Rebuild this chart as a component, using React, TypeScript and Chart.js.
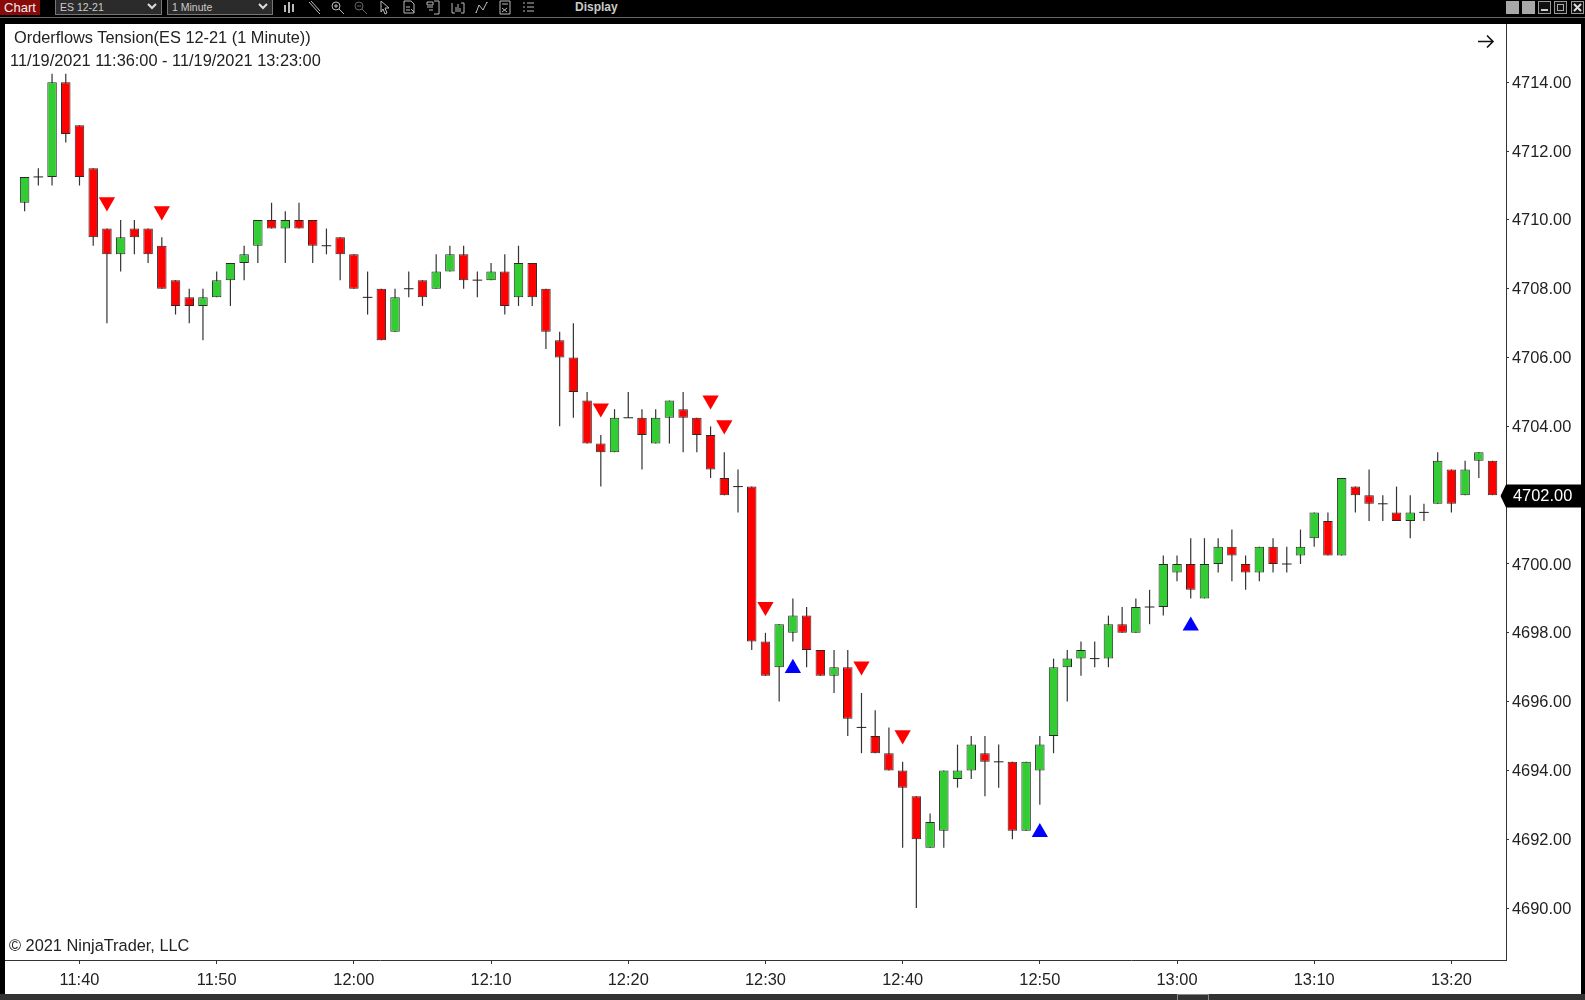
import React, { useEffect, useRef } from "react";
import { Chart, ScatterController, registerables } from "chart.js";

Chart.register(...registerables);
// The markers sit well inside the plot, so they must not widen the layout's minimum padding.
(ScatterController.prototype as any).getMaxOverflow = () => 0;

const opens = [
  4710.5, 4711.25, 4711.25, 4714, 4712.75, 4711.5, 4709.75, 4709, 4709.75, 4709.75,
  4709.25, 4708.25, 4707.75, 4707.5, 4707.75, 4708.25, 4708.75, 4709.25, 4710, 4709.75,
  4710, 4710, 4709.25, 4709.5, 4709, 4707.75, 4708, 4706.75, 4708, 4708.25,
  4708, 4708.5, 4709, 4708.25, 4708.25, 4708.5, 4707.75, 4708.75, 4708, 4706.5,
  4706, 4704.75, 4703.5, 4703.25, 4704.25, 4704.25, 4703.5, 4704.25, 4704.5, 4704.25,
  4703.75, 4702.5, 4702.25, 4702.25, 4697.75, 4697, 4698, 4698.5, 4697.5, 4696.75,
  4697, 4695.25, 4695, 4694.5, 4694, 4693.25, 4691.75, 4692.25, 4693.75, 4694,
  4694.5, 4694.25, 4694.25, 4692.25, 4694, 4695, 4697, 4697.25, 4697.25, 4697.25,
  4698.25, 4698, 4698.75, 4698.75, 4699.75, 4700, 4699, 4700, 4700.5, 4700,
  4699.75, 4700.5, 4700, 4700.25, 4700.75, 4701.25, 4700.25, 4702.25, 4702, 4701.75,
  4701.5, 4701.25, 4701.5, 4701.75, 4702.75, 4702, 4703, 4703,
];
const highs = [
  4711.25, 4711.5, 4714.25, 4714.25, 4712.75, 4711.5, 4709.75, 4710, 4710, 4709.75,
  4709.5, 4708.25, 4708, 4708, 4708.5, 4708.75, 4709.25, 4710, 4710.5, 4710.25,
  4710.5, 4710, 4709.75, 4709.5, 4709, 4708.5, 4708, 4708, 4708.5, 4708.25,
  4709, 4709.25, 4709.25, 4708.5, 4708.75, 4709, 4709.25, 4708.75, 4708, 4706.75,
  4707, 4705, 4703.75, 4704.5, 4705, 4704.5, 4704.5, 4704.75, 4705, 4704.25,
  4704, 4703.25, 4702.75, 4702.25, 4698, 4698.25, 4699, 4698.75, 4697.5, 4697.5,
  4697.5, 4696.25, 4695.75, 4695.25, 4694.25, 4693.25, 4692.75, 4694, 4694.75, 4695,
  4695, 4694.75, 4694.25, 4694.25, 4695, 4697.25, 4697.5, 4697.75, 4697.75, 4698.5,
  4698.75, 4699, 4699.25, 4700.25, 4700.25, 4700.75, 4700.75, 4700.75, 4701, 4700.25,
  4700.5, 4700.75, 4700.5, 4701, 4701.5, 4701.5, 4702.5, 4702.25, 4702.75, 4702,
  4702.25, 4702, 4701.75, 4703.25, 4702.75, 4703, 4703.25, 4703,
];
const lows = [
  4710.25, 4711, 4711, 4712.25, 4711, 4709.25, 4707, 4708.5, 4709, 4708.75,
  4708, 4707.25, 4707, 4706.5, 4707.75, 4707.5, 4708.25, 4708.75, 4709.75, 4708.75,
  4709.75, 4708.75, 4709, 4708.25, 4708, 4707.25, 4706.5, 4706.75, 4707.75, 4707.5,
  4708, 4708.5, 4708, 4707.75, 4708.25, 4707.25, 4707.5, 4707.5, 4706.25, 4704,
  4704.25, 4703.5, 4702.25, 4703.25, 4704.25, 4702.75, 4703.5, 4703.5, 4703.25, 4703.25,
  4702.5, 4702, 4701.5, 4697.5, 4696.75, 4696, 4697.75, 4697, 4696.75, 4696.25,
  4695, 4694.5, 4694.5, 4694, 4691.75, 4690, 4691.75, 4691.75, 4693.5, 4693.75,
  4693.25, 4693.5, 4692, 4692.25, 4693, 4694.5, 4696, 4696.75, 4697, 4697,
  4698, 4698, 4698.25, 4698.5, 4699.5, 4699, 4699, 4699.75, 4699.5, 4699.25,
  4699.5, 4699.75, 4699.75, 4700, 4700.5, 4700.25, 4700.25, 4701.5, 4701.25, 4701.25,
  4701.25, 4700.75, 4701.25, 4701.75, 4701.5, 4702, 4702.5, 4702,
];
const closes = [
  4711.25, 4711.25, 4714, 4712.5, 4711.25, 4709.5, 4709, 4709.5, 4709.5, 4709,
  4708, 4707.5, 4707.5, 4707.75, 4708.25, 4708.75, 4709, 4710, 4709.75, 4710,
  4709.75, 4709.25, 4709.25, 4709, 4708, 4707.75, 4706.5, 4707.75, 4708, 4707.75,
  4708.5, 4709, 4708.25, 4708.25, 4708.5, 4707.5, 4708.75, 4707.75, 4706.75, 4706,
  4705, 4703.5, 4703.25, 4704.25, 4704.25, 4703.75, 4704.25, 4704.75, 4704.25, 4703.75,
  4702.75, 4702, 4702.25, 4697.75, 4696.75, 4698.25, 4698.5, 4697.5, 4696.75, 4697,
  4695.5, 4695.25, 4694.5, 4694, 4693.5, 4692, 4692.5, 4694, 4694, 4694.75,
  4694.25, 4694.25, 4692.25, 4694.25, 4694.75, 4697, 4697.25, 4697.5, 4697.25, 4698.25,
  4698, 4698.75, 4698.75, 4700, 4700, 4699.25, 4700, 4700.5, 4700.25, 4699.75,
  4700.5, 4700, 4700, 4700.5, 4701.5, 4700.25, 4702.5, 4702, 4701.75, 4701.75,
  4701.25, 4701.5, 4701.5, 4703, 4701.75, 4702.75, 4703.25, 4702,
];

const sellBars = [6, 10, 42, 50, 51, 54, 61, 64];
const sellPrices = [4710.52, 4710.26, 4704.53, 4704.76, 4704.04, 4698.76, 4697.03, 4695.03];
const buyBars = [56, 74, 85];
const buyPrices = [4696.97, 4692.2, 4698.2];

const priceTicks = [4690, 4692, 4694, 4696, 4698, 4700, 4702, 4704, 4706, 4708, 4710, 4712, 4714];
const timeTickBars = [4, 14, 24, 34, 44, 54, 64, 74, 84, 94, 104];
const timeTickLabels = ["11:40", "11:50", "12:00", "12:10", "12:20", "12:30", "12:40", "12:50", "13:00", "13:10", "13:20"];
const lastPrice = 4702;

const FONT = '"Liberation Sans", Arial, sans-serif';
const INK = "#222";

const lastPriceTag = {
  id: "lastPriceTag",
  afterDraw(chart: any) {
    const { ctx, scales } = chart;
    const y = Math.round(scales.y.getPixelForValue(lastPrice)) + 1;
    ctx.save();
    ctx.fillStyle = "#000";
    ctx.beginPath();
    ctx.moveTo(1500.5, y);
    ctx.lineTo(1506, y - 11.5);
    ctx.lineTo(1581, y - 11.5);
    ctx.lineTo(1581, y + 11.5);
    ctx.lineTo(1506, y + 11.5);
    ctx.closePath();
    ctx.fill();
    ctx.fillStyle = "#fff";
    ctx.font = `16.4px ${FONT}`;
    ctx.textBaseline = "middle";
    ctx.fillText(lastPrice.toFixed(2), 1513, y + 0.5);
    ctx.restore();
  },
};

const iconX = [290, 314, 337, 360, 385, 409, 433, 457, 481, 505, 528];
const iconPaths = [
  "M2 5v7M6 2v11M10 4v8",
  "M2 2l9 10M4 1l9 10M11 12l2 2",
  "M6 6m-4 0a4 4 0 1 0 8 0a4 4 0 1 0-8 0M9 9l5 5M4 6h4M6 4v4",
  "M6 6m-4 0a4 4 0 1 0 8 0a4 4 0 1 0-8 0M9 9l5 5M4 6h4",
  "M3 1l8 7h-4l2 5-2 1-2-5-2 3z",
  "M2 1h7l3 3v9H2zM4 7h4M4 10h4M9 9l3 3",
  "M8 1h5v13H8M1 2h6v3H1zM1 7h6M3 10h4",
  "M2 3v10h3M11 3h3v10h-3M6 12V7M8 12V4M10 12V8",
  "M2 13l3-8 4 5 4-8M2 13v-1M13 2v1",
  "M2 1h10v13H2zM4 4h6M4 8l5 4M9 8l-5 4",
  "M2 3h2M6 3h7M2 7h2M6 7h7M2 11h2M6 11h7",
];

function Toolbar() {
  const box = (left: number, width: number, label: string) => (
    <div style={{ position: "absolute", left, top: 0, width, height: 15, boxSizing: "border-box", background: "#2b2b2b", border: "1px solid #777", borderTop: "none", color: "#ccc", font: `10.5px ${FONT}`, lineHeight: "14px", paddingLeft: 4 }}>
      {label}
      <svg width="10" height="8" style={{ position: "absolute", right: 4, top: 3 }}>
        <path d="M1 1l4 4 4-4" stroke="#ddd" strokeWidth="2" fill="none" />
      </svg>
    </div>
  );
  const winBtn = (left: number, inner: React.ReactNode, filled: boolean) => (
    <div style={{ position: "absolute", left, top: 1, width: 13, height: 13, background: filled ? "#a8a8a8" : "#111", border: filled ? "none" : "1px solid #999", boxSizing: "border-box" }}>{inner}</div>
  );
  return (
    <>
      <div style={{ position: "absolute", left: 0, top: 17, width: 1585, height: 1, background: "#666" }} />
      <div style={{ position: "absolute", left: 0, top: 0, width: 40, height: 15, background: "#8a0a0a", color: "#eee", font: `13px ${FONT}`, lineHeight: "15px", textAlign: "center" }}>Chart</div>
      {box(55, 107, "ES 12-21")}
      {box(167, 106, "1 Minute")}
      {iconX.map((x, i) => (
        <svg key={i} width="15" height="15" style={{ position: "absolute", left: x - 7, top: 0 }}>
          <path d={iconPaths[i]} stroke={i === 3 ? "#666" : "#bbb"} strokeWidth={i === 0 ? 2 : 1} fill="none" />
        </svg>
      ))}
      <div style={{ position: "absolute", left: 575, top: 0, color: "#ccc", font: `bold 12px ${FONT}`, lineHeight: "15px" }}>Display</div>
      {winBtn(1506, null, true)}
      {winBtn(1522, null, true)}
      {winBtn(1538, <div style={{ position: "absolute", left: 2, bottom: 2, width: 7, height: 2, background: "#ccc" }} />, false)}
      {winBtn(1554, <div style={{ position: "absolute", left: 2, top: 2, width: 7, height: 7, boxSizing: "border-box", border: "1px solid #aaa" }} />, false)}
      {winBtn(1571, <svg width="11" height="11" style={{ display: "block" }}><path d="M2 2l7 7M9 2l-7 7" stroke="#ddd" strokeWidth="2" /></svg>, false)}
    </>
  );
}

export default function App() {
  const ref = useRef<HTMLCanvasElement>(null);
  useEffect(() => {
    const bars = opens.map((_, i) => i);
    const bodyBars = bars.filter((i) => opens[i] !== closes[i]);
    const dojiBars = bars.filter((i) => opens[i] === closes[i]);
    const chart = new Chart(ref.current as HTMLCanvasElement, {
      type: "bar",
      plugins: [lastPriceTag],
      data: {
        datasets: [
          {
            label: "Range",
            data: bars.map((i) => ({ x: i, y: [lows[i], highs[i]] })),
            backgroundColor: "#333",
            barThickness: 1.2,
            grouped: false,
            inflateAmount: 0,
            order: 4,
          },
          {
            label: "Body",
            data: bodyBars.map((i) => ({ x: i, y: [opens[i], closes[i]] })),
            backgroundColor: bodyBars.map((i) => (closes[i] > opens[i] ? "#32cd32" : "#ff0000")),
            borderColor: "#2a2a2a",
            borderWidth: 1,
            borderSkipped: false,
            barThickness: 9.5,
            grouped: false,
            inflateAmount: 0,
            order: 3,
          },
          {
            type: "scatter",
            label: "Doji",
            data: dojiBars.map((i) => ({ x: i, y: closes[i] })),
            pointStyle: "line",
            pointRadius: 4.8,
            borderColor: "#222",
            borderWidth: 1,
            order: 2,
          },
          {
            type: "scatter",
            label: "Sell tension",
            data: sellBars.map((b, i) => ({ x: b, y: sellPrices[i] })),
            pointStyle: "triangle",
            rotation: 180,
            pointRadius: 9.4,
            backgroundColor: "#ff0000",
            borderWidth: 0,
            order: 1,
          },
          {
            type: "scatter",
            label: "Buy tension",
            data: buyBars.map((b, i) => ({ x: b, y: buyPrices[i] })),
            pointStyle: "triangle",
            pointRadius: 9.4,
            backgroundColor: "#0000ff",
            borderWidth: 0,
            order: 1,
          },
        ],
      } as any,
      options: {
        responsive: false,
        animation: false,
        events: [],
        layout: { padding: { left: 5, top: 24, right: 4, bottom: 6 } },
        plugins: { legend: { display: false }, tooltip: { enabled: false }, title: { display: false } },
        scales: {
          x: {
            type: "linear",
            offset: false,
            min: -1.43,
            max: 107.98,
            afterBuildTicks: (s: any) => {
              s.ticks = timeTickBars.map((value) => ({ value }));
            },
            afterFit: (s: any) => {
              s.height = 34;
            },
            ticks: {
              autoSkip: false,
              maxRotation: 0,
              padding: 7,
              color: INK,
              font: { family: FONT, size: 16.4 },
              callback: (v: any) => timeTickLabels[timeTickBars.indexOf(Number(v))],
            },
            grid: { offset: false, drawOnChartArea: false, tickLength: 4, color: "#333" },
            border: { color: "#333", width: 1 },
          },
          y: {
            type: "linear",
            position: "right",
            min: 4688.49,
            max: 4715.695,
            afterBuildTicks: (s: any) => {
              s.ticks = priceTicks.map((value) => ({ value }));
            },
            afterFit: (s: any) => {
              s.width = 75;
            },
            ticks: {
              padding: 3,
              labelOffset: 1,
              color: INK,
              font: { family: FONT, size: 16.4 },
              callback: (v: any) => Number(v).toFixed(2),
            },
            grid: { drawOnChartArea: false, tickLength: 3, color: "#333" },
            border: { color: "#333", width: 1 },
          },
        },
      } as any,
    });
    return () => chart.destroy();
  }, []);

  const text = (left: number, top: number, label: string) => (
    <div style={{ position: "absolute", left, top, color: INK, font: `16.35px ${FONT}`, lineHeight: "20px", whiteSpace: "nowrap" }}>{label}</div>
  );

  return (
    <div style={{ position: "fixed", left: 0, top: 0, width: 1585, height: 1000, background: "#000", overflow: "hidden" }}>
      <Toolbar />
      <div style={{ position: "absolute", left: 5, top: 24, width: 1576, height: 970, background: "#fff" }} />
      <div style={{ position: "absolute", left: 0, top: 994, width: 1585, height: 6, background: "#333" }} />
      <div style={{ position: "absolute", left: 1177, top: 994, width: 32, height: 6, boxSizing: "border-box", border: "1px solid #888", borderBottom: "none" }} />
      <canvas ref={ref} width={1585} height={1000} style={{ position: "absolute", left: 0, top: 0, display: "block" }} />
      {text(14, 27, "Orderflows Tension(ES 12-21 (1 Minute))")}
      {text(10, 50, "11/19/2021 11:36:00 - 11/19/2021 13:23:00")}
      {text(9, 935, "© 2021 NinjaTrader, LLC")}
      <svg width="18" height="15" style={{ position: "absolute", left: 1477, top: 34 }}>
        <path d="M1 7.5h15M10 1.5l6 6-6 6" stroke="#111" strokeWidth="1.6" fill="none" />
      </svg>
    </div>
  );
}
